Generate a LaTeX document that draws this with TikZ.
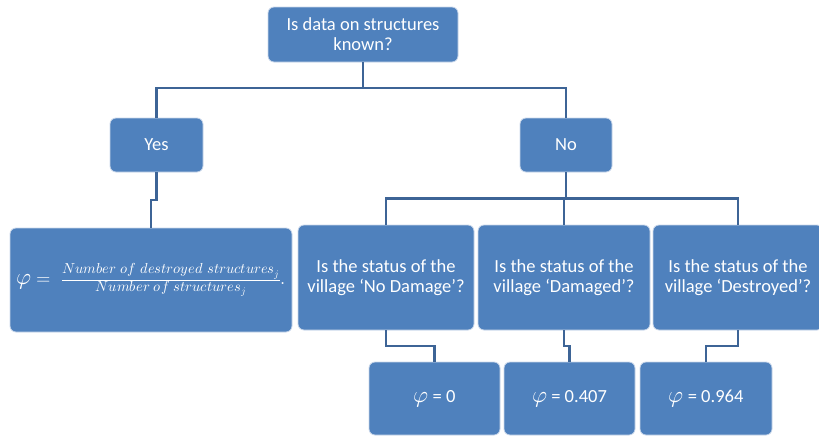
\documentclass[tikz,border=0pt]{standalone}
\usepackage{amsmath}
\usepackage{fontspec}
\usepackage{unicode-math}
\setmainfont{Carlito}
\setmathfont{Latin Modern Math}
\usetikzlibrary{calc, positioning}
\DeclareMathSizes{18.5}{18.5}{14.5}{10}
\newcommand{\phisym}{{\fontsize{23}{20}\selectfont$\varphi$}}
\definecolor{boxblue}{HTML}{4F81BD}
\definecolor{boxrim}{HTML}{C9D7EA}
\definecolor{linkblue}{HTML}{3D6496}
\tikzset{
  decbox/.style={rectangle, rounded corners=6pt, fill=boxblue, draw=boxrim,
    line width=0.8pt, text=white, align=center, inner sep=2pt,
    font=\fontsize{18.5}{20}\selectfont},
  link/.style={draw=linkblue, line width=2.5pt}
}
\begin{document}
\begin{tikzpicture}[x=1pt, y=-1pt]
  \useasboundingbox (0,0) rectangle (819,437);
  \clip (0,0) rectangle (819,437);
  % question and answers
  \node (query) at (363,34.5) [decbox, minimum width=190pt, minimum height=55pt] {Is data on structures\\known?};
  \node (yes) at (156.5,145) [decbox, minimum width=93pt, minimum height=54pt] {Yes};
  \node (no) at (566,145) [decbox, minimum width=92pt, minimum height=54pt] {No};
  % second row
  \node (ratio) at (151,280) [decbox, minimum width=282pt, minimum height=104pt]
    {\phisym$\;=\;\frac{Number\ of\ destroyed\ structures_j}{Number\ of\ structures_j}.$};
  \node (nodmg) at (386,277.5) [decbox, minimum width=176pt, minimum height=105pt] {Is the status of the\\village `No Damage'?};
  \node (dmg) at (564,277.5) [decbox, minimum width=172pt, minimum height=105pt] {Is the status of the\\village `Damaged'?};
  \node (destr) at (738,277.5) [decbox, minimum width=170pt, minimum height=105pt] {Is the status of the\\village `Destroyed'?};
  % results
  \node (phizero) at (434.5,398.5) [decbox, minimum width=131pt, minimum height=73pt] {\phisym{} = 0};
  \node (phidmg) at (569.5,398.5) [decbox, minimum width=131pt, minimum height=73pt] {\phisym{} = 0.407};
  \node (phidestr) at (706,398.5) [decbox, minimum width=132pt, minimum height=73pt] {\phisym{} = 0.964};
  % connectors
  \coordinate (split) at (363,88);
  \draw [link] (query.south) -- (split) -| (yes.north);
  \draw [link] (split) -| (no.north);
  \draw [link] (yes.south) |- ($(yes.south)!0.5!(ratio.north)$) -| (ratio.north);
  \coordinate (fork) at ($(no.south)!0.5!(nodmg.north)$);
  \draw [link] (no.south) -- (fork -| no.south) -| (nodmg.north);
  \draw [link] (fork -| no.south) -| (dmg.north);
  \draw [link] (fork -| no.south) -| (destr.north);
  \draw [link] (nodmg.south) |- ($(nodmg.south)!0.5!(phizero.north)$) -| (phizero.north);
  \draw [link] (dmg.south) |- ($(dmg.south)!0.5!(phidmg.north)$) -| (phidmg.north);
  \draw [link] (destr.south) |- ($(destr.south)!0.5!(phidestr.north)$) -| (phidestr.north);
\end{tikzpicture}
\end{document}
